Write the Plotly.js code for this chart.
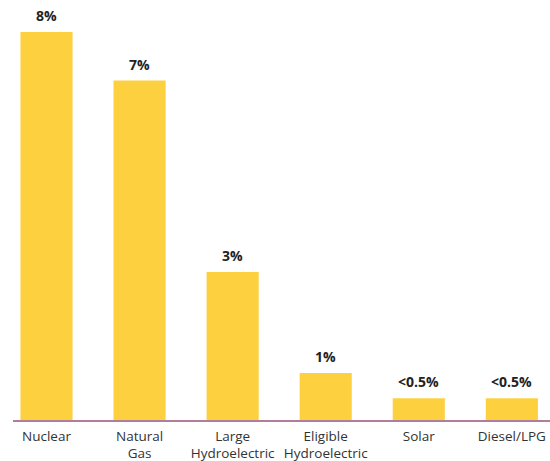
<!DOCTYPE html>
<html>
<head>
<meta charset="utf-8">
<script src="https://cdn.plot.ly/plotly-3.0.1.min.js"></script>
<style>html,body{margin:0;padding:0;background:#fff;}#chart{width:550px;height:461px;}</style>
</head>
<body>
<div id="chart"></div>
<script>
const categories = ["Nuclear", "Natural<br>Gas", "Large<br>Hydroelectric", "Eligible<br>Hydroelectric", "Solar", "Diesel/LPG"];
const values = [8, 7, 3.05, 0.97, 0.45, 0.45];
const valueLabels = ["8%", "7%", "3%", "1%", "<0.5%", "<0.5%"];

const trace = {
  type: 'bar',
  x: categories,
  y: values,
  marker: {color: '#FDD040'},
  hoverinfo: 'none'
};

const annotations = categories.map((c, i) => ({
  x: c, y: values[i], xref: 'x', yref: 'y',
  text: '<b>' + valueLabels[i].replace('<', '&lt;') + '</b>',
  showarrow: false, yanchor: 'bottom', yshift: 5,
  font: {family: 'Open Sans', size: 14, color: '#222'}
}));

const layout = {
  width: 550, height: 461,
  margin: {l: 13, r: 0, t: 0, b: 41},
  paper_bgcolor: '#fff', plot_bgcolor: '#fff',
  bargap: 0.44,
  showlegend: false,
  xaxis: {
    type: 'category',
    range: [-0.36, 5.41],
    showline: true, linecolor: '#B07D9B', linewidth: 1.5,
    ticks: '', showgrid: false, zeroline: false,
    ticklabelstandoff: 3,
    tickfont: {family: 'Open Sans', size: 13.5, color: '#333'},
    layer: 'above traces'
  },
  yaxis: {
    range: [0, 8.66],
    visible: false, showgrid: false, zeroline: false
  },
  annotations: annotations,
  font: {family: 'Open Sans'}
};

Plotly.newPlot('chart', [trace], layout, {displayModeBar: false, staticPlot: true});
</script>
</body>
</html>
